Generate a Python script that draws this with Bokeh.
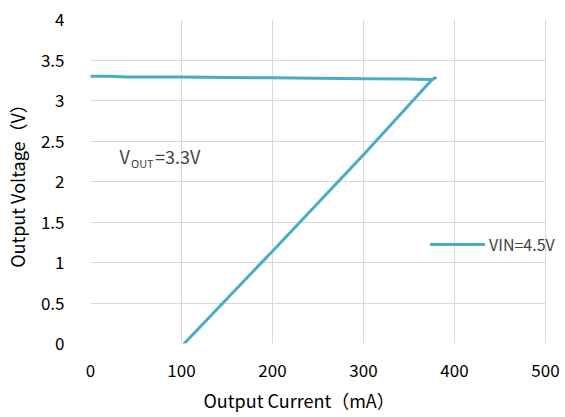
from bokeh.plotting import figure
from bokeh.models import Range1d, FixedTicker, Label, Legend, LegendItem, BoxAnnotation, Title
from bokeh.embed import file_html
from bokeh.resources import INLINE

# ---- data ----
current_ma = [0, 20, 40, 60, 100, 150, 200, 250, 300, 350, 370, 376, 379, 376, 300, 200, 103]
voltage_v = [3.30, 3.30, 3.29, 3.29, 3.29, 3.285, 3.28, 3.275, 3.27, 3.265, 3.26, 3.26, 3.28, 3.265, 2.33, 1.14, 0.0]
x_ticks = [0, 100, 200, 300, 400, 500]
y_ticks = [0, 0.5, 1, 1.5, 2, 2.5, 3, 3.5, 4]
y_tick_labels = ["0", "0.5", "1", "1.5", "2", "2.5", "3", "3.5", "4"]
series_label = "VIN=4.5V"
x_title = "Output Current（mA）"
y_title = "Output Voltage（V）"
vout_parts = ["V", "OUT", "=3.3V"]

FONT = "Noto Sans CJK SC"
GRID = "#d9d9d9"
LINE = "#4bacc6"

# frame extends a little past 500 so the legend text is not clipped
p = figure(width=565, height=417, output_backend="svg", toolbar_location=None,
           x_range=Range1d(0, 514.3), y_range=Range1d(0, 4),
           min_border_left=90, min_border_right=7, min_border_top=19, min_border_bottom=74)
p.background_fill_color = "white"
p.border_fill_color = "white"
p.outline_line_color = None

r = p.line(current_ma, voltage_v, line_color=LINE, line_width=3, line_join="round", line_cap="round")

p.xaxis.ticker = FixedTicker(ticks=x_ticks)
p.yaxis.ticker = FixedTicker(ticks=y_ticks)
p.yaxis.major_label_overrides = {t: l for t, l in zip(y_ticks, y_tick_labels)}
for ax in (p.xaxis[0], p.yaxis[0]):
    ax.axis_line_color = None
    ax.major_tick_line_color = None
    ax.minor_tick_line_color = None
    ax.major_label_text_font = FONT
    ax.major_label_text_font_size = "17px"
    ax.major_label_text_color = "#000000"
    ax.axis_label_text_font = FONT
    ax.axis_label_text_font_size = "18px"
    ax.axis_label_text_font_style = "normal"
    ax.axis_label_text_color = "#000000"
p.xaxis.major_label_standoff = 14
p.yaxis.major_label_standoff = 20
p.yaxis.axis_label = y_title
p.yaxis.axis_label_standoff = 8

p.add_layout(Title(text=x_title, align="left", offset=113, text_font=FONT,
                   text_font_size="18px", text_font_style="normal", text_color="#000000",
                   standoff=10), "below")

p.xgrid.grid_line_color = GRID
p.ygrid.grid_line_color = GRID
p.xgrid.grid_line_width = 1
p.ygrid.grid_line_width = 1
# hide the horizontal grid beyond the last x tick
p.add_layout(BoxAnnotation(left=x_ticks[-1] + 0.7, fill_color="white", fill_alpha=1,
                           line_color=None, level="underlay"))

legend = Legend(items=[LegendItem(label=series_label, renderers=[r])],
                location=(340, 87), background_fill_alpha=0, border_line_color=None,
                padding=0, margin=0, glyph_width=55, glyph_height=20, label_height=20,
                label_standoff=4, label_text_font=FONT, label_text_font_size="16px")
p.add_layout(legend, "center")

p.add_layout(Label(x=32, y=2.15, text=vout_parts[0], text_font=FONT, text_font_size="18px"))
p.add_layout(Label(x=44.5, y=2.13, text=vout_parts[1], text_font=FONT, text_font_size="11px"))
p.add_layout(Label(x=71, y=2.15, text=vout_parts[2], text_font=FONT, text_font_size="18px"))

open("out.html", "w").write(file_html(p, INLINE))
